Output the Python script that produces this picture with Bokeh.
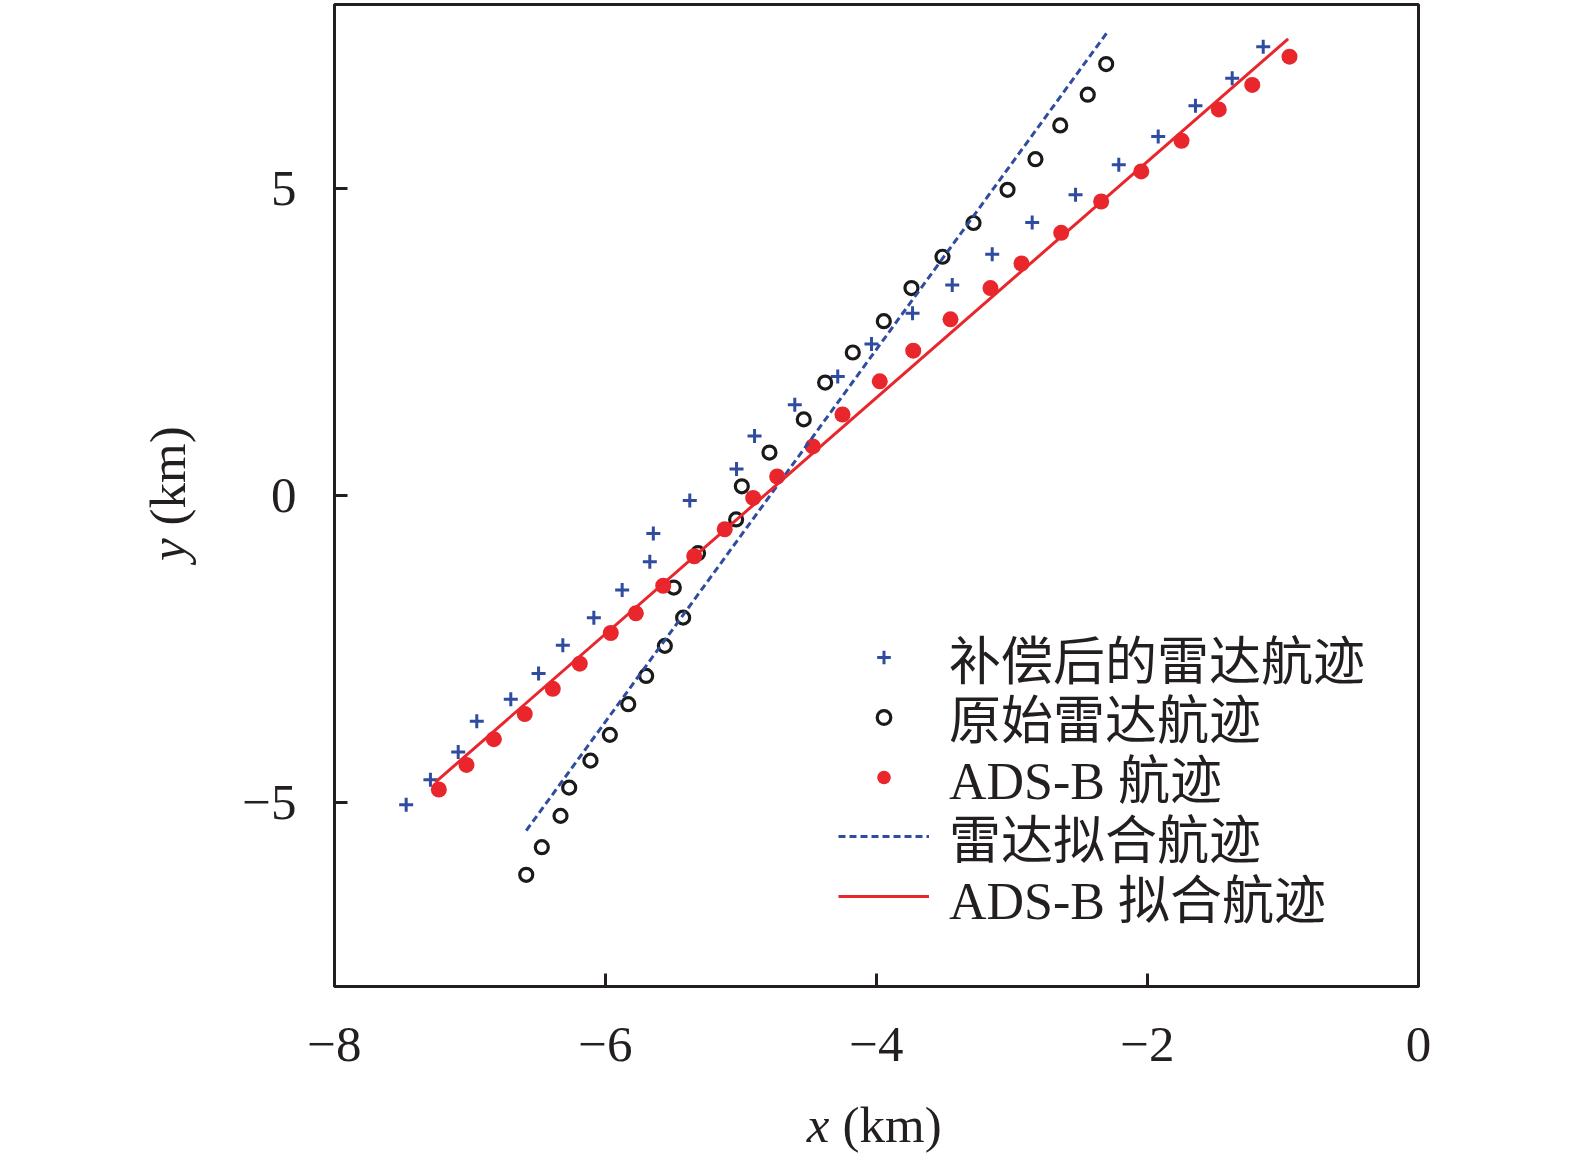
from bokeh.plotting import figure
from bokeh.models import Range1d, FixedTicker, Legend, LegendItem, Label
from bokeh.embed import file_html
from bokeh.resources import INLINE
import math

# ---------------- data ----------------
x_ticks = [-8, -6, -4, -2, 0]
x_tick_labels = ["\u22128", "\u22126", "\u22124", "\u22122", "0"]
y_ticks = [-5, 0, 5]
y_tick_labels = ["\u22125", "0", "5"]

# compensated radar track (+)
comp_x = [-7.471, -7.292, -7.087, -6.950, -6.699, -6.494, -6.315, -6.086, -5.877, -5.673,
          -5.647, -5.378, -5.033, -4.900, -4.603, -4.286, -4.037, -3.734, -3.441, -3.146,
          -2.851, -2.531, -2.212, -1.921, -1.646, -1.375, -1.146]
comp_y = [-5.04, -4.63, -4.18, -3.68, -3.32, -2.90, -2.44, -1.99, -1.54, -1.08,
          -0.62, -0.08, 0.43, 0.97, 1.48, 1.94, 2.47, 2.97, 3.43, 3.93,
          4.45, 4.90, 5.39, 5.85, 6.35, 6.80, 7.31]

# original radar track (o)
raw_x = [-6.585, -6.470, -6.332, -6.268, -6.111, -5.968, -5.832, -5.700, -5.562, -5.427,
         -5.496, -5.317, -5.036, -4.994, -4.790, -4.537, -4.379, -4.175, -3.946, -3.742,
         -3.513, -3.284, -3.033, -2.827, -2.644, -2.441, -2.305]
raw_y = [-6.18, -5.73, -5.22, -4.76, -4.32, -3.90, -3.40, -2.94, -2.45, -1.99,
         -1.50, -0.94, -0.39, 0.15, 0.70, 1.24, 1.84, 2.33, 2.84, 3.38,
         3.89, 4.44, 4.98, 5.48, 6.03, 6.53, 7.03]

# ADS-B track (filled dots)
ads_x = [-7.230, -7.026, -6.824, -6.596, -6.389, -6.190, -5.961, -5.776, -5.574, -5.345,
         -5.120, -4.910, -4.733, -4.470, -4.251, -3.976, -3.729, -3.454, -3.159, -2.930,
         -2.637, -2.342, -2.046, -1.749, -1.474, -1.227, -0.952]
ads_y = [-4.79, -4.39, -3.97, -3.56, -3.15, -2.74, -2.24, -1.92, -1.47, -0.99,
         -0.55, -0.04, 0.31, 0.80, 1.32, 1.86, 2.36, 2.87, 3.38, 3.78,
         4.28, 4.79, 5.28, 5.78, 6.29, 6.69, 7.15]

# fitted tracks
radar_fit_x = [-6.585, -2.303]
radar_fit_y = [-5.46, 7.53]
ads_fit_x = [-7.255, -0.962]
ads_fit_y = [-4.67, 7.44]

legend_labels = ["补偿后的雷达航迹", "原始雷达航迹", "ADS-B 航迹", "雷达拟合航迹", "ADS-B 拟合航迹"]

# ---------------- style ----------------
BLUE = "#2f4c9f"
RED = "#e8262b"
BLACK = "#231f20"
SERIF = "Liberation Serif"
CJK = "Liberation Serif, Noto Sans CJK SC"

p = figure(frame_width=1084, frame_height=982,
           min_border_left=334, min_border_right=140,
           min_border_top=4, min_border_bottom=173,
           x_range=Range1d(-8, 0), y_range=Range1d(-8, 8),
           output_backend="svg", toolbar_location=None, tools="")
p.xgrid.visible = False
p.ygrid.visible = False
p.background_fill_color = "white"
p.border_fill_color = "white"
p.outline_line_color = BLACK
p.outline_line_width = 3
p.outline_line_alpha = 1.0

for ax in (p.xaxis[0], p.yaxis[0]):
    ax.axis_line_width = 3
    ax.axis_line_color = BLACK
    ax.major_tick_in = 13
    ax.major_tick_out = 0
    ax.major_tick_line_width = 3
    ax.major_tick_line_color = BLACK
    ax.minor_tick_line_color = None
    ax.major_label_text_font = SERIF
    ax.major_label_text_font_size = "51px"
    ax.major_label_text_color = BLACK

p.xaxis.ticker = FixedTicker(ticks=x_ticks)
p.yaxis.ticker = FixedTicker(ticks=y_ticks)
p.xaxis.major_label_overrides = {t: s for t, s in zip(x_ticks, x_tick_labels)}
p.yaxis.major_label_overrides = {t: s for t, s in zip(y_ticks, y_tick_labels)}
p.xaxis.major_label_standoff = 41
p.yaxis.major_label_standoff = 38

r_comp = p.scatter(comp_x, comp_y, marker="cross", size=14, line_color=BLUE, line_width=3)
r_raw = p.scatter(raw_x, raw_y, marker="circle", size=13, fill_color=None,
                  line_color="#1a1a1a", line_width=3.2)
r_ads = p.scatter(ads_x, ads_y, marker="circle", size=16, fill_color=RED, line_color=None)
r_rfit = p.line(radar_fit_x, radar_fit_y, line_color=BLUE, line_width=3, line_dash="7 4")
r_afit = p.line(ads_fit_x, ads_fit_y, line_color=RED, line_width=3)

# one single-row legend per entry, so the row pitch matches the reference
renderers = [r_comp, r_raw, r_ads, r_rfit, r_afit]
ROW_H = 75.0
PITCH = 59.8
for i, (lab, r) in enumerate(zip(legend_labels, renderers)):
    center = 657 + PITCH * i          # canvas px of row centre
    bottom = 986 - center - ROW_H / 2  # distance of legend bottom above frame bottom
    lg = Legend(items=[LegendItem(label=lab, renderers=[r])],
                location=(504, bottom), glyph_width=91, glyph_height=34,
                label_standoff=20, spacing=0, label_height=30, padding=0, margin=0,
                border_line_color=None, background_fill_alpha=0,
                label_text_font=CJK, label_text_font_size="52px",
                label_text_color=BLACK, label_text_baseline="middle")
    p.add_layout(lg)

# axis titles (italic variable + upright unit), placed in the side panels
XL_Y = -10.249
XL_J = -4.347
p.add_layout(Label(x=XL_J, y=XL_Y, text="x", text_font=SERIF, text_font_style="italic",
                   text_font_size="51px", text_align="right", text_baseline="alphabetic",
                   text_color=BLACK), "below")
p.add_layout(Label(x=XL_J + 13 / 135.5, y=XL_Y, text="(km)", text_font=SERIF,
                   text_font_size="51px", text_align="left", text_baseline="alphabetic",
                   text_color=BLACK), "below")
YL_X = -9.23
YL_J = -0.70
p.add_layout(Label(x=YL_X, y=YL_J, text="y", text_font=SERIF, text_font_style="italic",
                   text_font_size="51px", text_align="right", text_baseline="alphabetic",
                   angle=math.pi / 2, text_color=BLACK), "left")
p.add_layout(Label(x=YL_X, y=YL_J + 13 / 61.375, text="(km)", text_font=SERIF,
                   text_font_size="51px", text_align="left", text_baseline="alphabetic",
                   angle=math.pi / 2, text_color=BLACK), "left")

open("out.html", "w").write(file_html(p, INLINE))
